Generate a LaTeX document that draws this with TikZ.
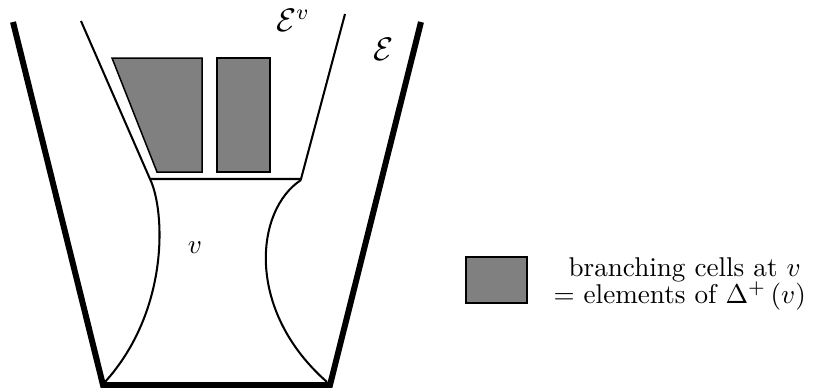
\documentclass[tikz,border=0pt]{standalone}
\usepackage{amssymb, amsmath}
\usepackage{tikz}
\definecolor{cellgray}{RGB}{128,128,128}
\begin{document}
\begin{tikzpicture}[x=0.3685pt, y=-0.3685pt,
		outer/.style={line width=2.2pt, line join=miter},
		inner/.style={line width=0.75pt},
		cell/.style={draw=black, fill=cellgray, line width=0.55pt},
		font=\normalsize]
		%Bildbereich
		\useasboundingbox (0,0) rectangle (830,390);
		% aeusserer Rand E
		\draw[outer] (13,22) -- (103,385) -- (330,385) -- (421,22);
		% innerer Rand E^v
		\draw[inner] (81,21) -- (150,179) -- (301,179) -- (345,14);
		% Boegen um v
		\draw[inner] (150,179) .. controls (165,210) and (170,310) .. (105,382);
		\draw[inner] (301,180) .. controls (255,210) and (245,310) .. (327,382);
		% Zellen
		\draw[cell] (112,58) -- (202,58) -- (202,172) -- (157,172) -- cycle;
		\draw[cell] (217,58) rectangle (270,172);
		% Beschriftungen
		\node[font=\large] (Ev) at (293,20) {$\mathcal{E}^v$};
		\node[font=\large] (E) at (384,49) {$\mathcal{E}$};
		\node (v) at (195,248) {$v$};
		% Legende
		\draw[cell] (466,257) rectangle (527,303);
		\node[anchor=base west, inner sep=0pt] (leg1) at (568,276) {branching cells at $v$};
		\node[anchor=base west, inner sep=0pt] (leg2) at (553,303) {$=$ elements of $\Delta^{+}\left(v\right)$};
	\end{tikzpicture}
\end{document}
